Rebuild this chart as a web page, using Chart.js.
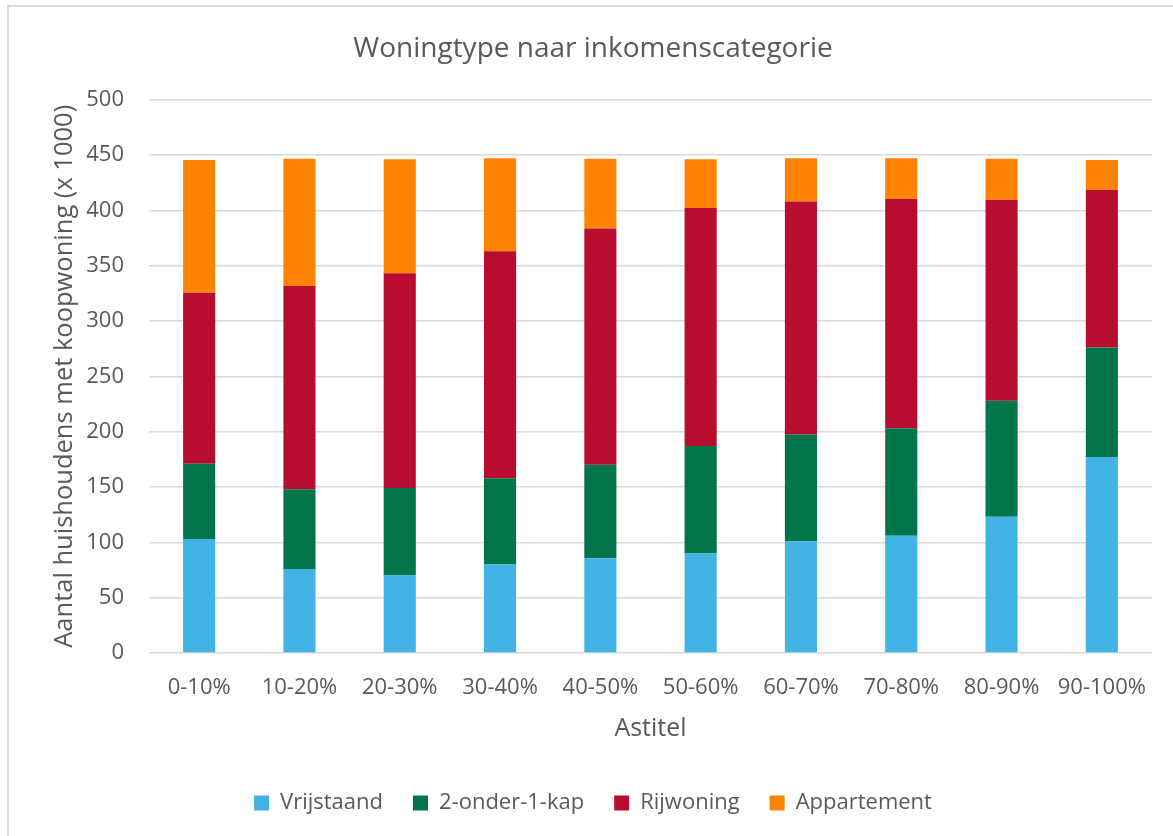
<!DOCTYPE html>
<html>
<head>
<meta charset="utf-8">
<script src="https://cdn.jsdelivr.net/npm/chart.js@4.4.1/dist/chart.umd.min.js"></script>
<style>
  html, body { margin: 0; padding: 0; background: #ffffff; }
  #wrap { position: relative; width: 1173px; height: 836px; overflow: hidden; }
  #frame { position: absolute; left: 7px; top: 5px; width: 1200px; height: 900px; border: 2px solid #d9d9d9; box-sizing: border-box; pointer-events: none; }
  canvas { position: absolute; left: 0; top: 0; }
</style>
</head>
<body>
<div id="wrap">
  <canvas id="c" width="1173" height="836"></canvas>
  <div id="frame"></div>
</div>
<script>
const chartTitle = 'Woningtype naar inkomenscategorie';
const xTitle = 'Astitel';
const yTitle = 'Aantal huishoudens met koopwoning (x 1000)';
const categories = ['0-10%', '10-20%', '20-30%', '30-40%', '40-50%', '50-60%', '60-70%', '70-80%', '80-90%', '90-100%'];
const seriesNames = ['Vrijstaand', '2-onder-1-kap', 'Rijwoning', 'Appartement'];
const vrijstaand = [103, 76, 70, 80, 85.5, 90, 101, 106, 123, 177];
const tweeOnderEenKap = [68, 72, 79, 78, 84.5, 97, 96.5, 97, 105, 99];
const rijwoning = [154.5, 183.5, 194, 205, 213.5, 215, 210.5, 207.5, 181.5, 142.5];
const appartement = [120, 115, 103, 84, 63, 44, 39, 36.5, 37, 27];
const yTicks = { min: 0, max: 500, step: 50 };
const colors = ['#41b3e5', '#00754a', '#b90d2f', '#ff8300'];

const textColor = '#595959';
const fontFamily = "'Open Sans', 'Noto Sans', sans-serif";
const seriesData = [vrijstaand, tweeOnderEenKap, rijwoning, appartement];

new Chart(document.getElementById('c'), {
  type: 'bar',
  data: {
    labels: categories,
    datasets: seriesNames.map((name, i) => ({
      label: name,
      data: seriesData[i],
      backgroundColor: colors[i],
      borderWidth: 0,
      barPercentage: 0.32,
      categoryPercentage: 1.0
    }))
  },
  options: {
    responsive: false,
    animation: false,
    devicePixelRatio: 1,
    layout: { padding: { left: 34, right: 21, top: 0, bottom: 12 } },
    plugins: {
      title: {
        display: true,
        text: chartTitle,
        color: textColor,
        font: { family: fontFamily, size: 28, weight: 'normal', lineHeight: 1.2 },
        padding: { top: 32, bottom: 34 }
      },
      legend: {
        display: true,
        position: 'bottom',
        labels: {
          color: textColor,
          font: { family: fontFamily, size: 22 },
          boxWidth: 15,
          boxHeight: 15,
          padding: 30
        }
      },
      tooltip: { enabled: false }
    },
    scales: {
      x: {
        stacked: true,
        grid: { display: false, drawTicks: false },
        border: { display: false },
        ticks: {
          color: textColor,
          font: { family: fontFamily, size: 22, lineHeight: 1.2 },
          padding: 22,
          maxRotation: 0,
          autoSkip: false
        },
        title: {
          display: true,
          text: xTitle,
          color: textColor,
          font: { family: fontFamily, size: 25, lineHeight: 1.2 },
          padding: { top: 0, bottom: 18 }
        },
        afterFit: (scale) => { scale.height = 109; }
      },
      y: {
        stacked: true,
        min: yTicks.min,
        max: yTicks.max,
        grid: { color: '#d9d9d9', lineWidth: 1.5, drawTicks: false },
        border: { display: false },
        ticks: {
          stepSize: yTicks.step,
          color: textColor,
          font: { family: fontFamily, size: 22 },
          padding: 25
        },
        title: {
          display: true,
          text: yTitle,
          color: textColor,
          font: { family: fontFamily, size: 25.5, lineHeight: 1.2 },
          padding: { top: 15, bottom: 0 }
        },
        afterFit: (scale) => { scale.width = 115; }
      }
    }
  }
});
</script>
</body>
</html>
